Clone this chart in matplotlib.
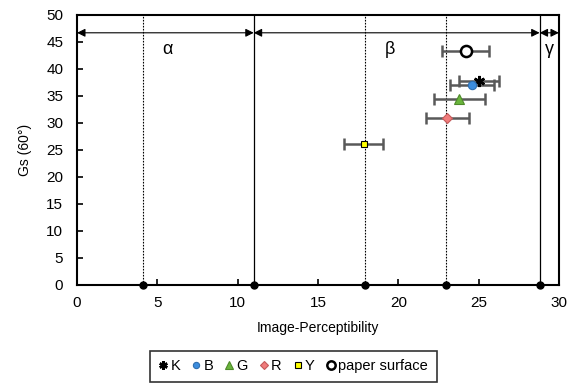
import matplotlib.pyplot as plt
import numpy as np

plt.rcParams['font.family'] = ['Liberation Sans', 'DejaVu Sans']

# samples
names = ['K', 'B', 'G', 'R', 'Y', 'paper surface']
x_vals = [25.05, 24.6, 23.8, 23.05, 17.85, 24.2]
y_vals = [37.8, 37.0, 34.5, 30.9, 26.1, 43.4]
x_errs = [1.25, 1.35, 1.6, 1.35, 1.2, 1.45]

# region boundaries
solid_bounds = [11.0, 28.8]
dashed_bounds = [4.1, 17.9, 23.0]
region_names = ['α', 'β', 'γ']
region_x = [5.6, 19.5, 29.4]

markers = [(6, 2, 0), 'o', '^', 'D', 's', 'o']
faces = ['black', '#3C8DDE', '#6AB53C', '#F07C7C', '#FFFF00', 'white']
edges = ['black', '#2F6FB0', '#4E8A2A', '#C45A5A', 'black', 'black']
sizes = [8, 6, 7, 5, 5, 8]

fig = plt.figure(figsize=(5.75, 3.84), dpi=100)
ax = fig.add_axes([0.134, 0.258, 0.838, 0.703])

for b in solid_bounds:
    ax.axvline(b, color='black', lw=0.9)
for b in dashed_bounds:
    ax.axvline(b, color='black', lw=0.8, ls=(0, (1.5, 1.2)))
ax.plot(dashed_bounds + solid_bounds, [0] * 5, 'o', color='black', ms=5,
        clip_on=False, zorder=5)

# region arrows
edges_x = [0] + solid_bounds + [30]
for i in range(3):
    ax.annotate('', xy=(edges_x[i], 46.7), xytext=(edges_x[i + 1], 46.7),
                arrowprops=dict(arrowstyle='<|-|>', color='black', lw=0.8,
                                mutation_scale=12, shrinkA=0, shrinkB=0))
    ax.text(region_x[i], 43.6, region_names[i], fontsize=13, ha='center',
            va='center')

handles = []
for i in range(len(names)):
    ax.errorbar(x_vals[i], y_vals[i], xerr=x_errs[i], fmt='none',
                ecolor='#595959', elinewidth=1.8, capsize=4, capthick=1.8,
                zorder=3)
    mew = 1.8 if i in (0, 5) else 0.8
    h, = ax.plot(x_vals[i], y_vals[i], marker=markers[i], ls='none',
                 ms=sizes[i], mfc=faces[i], mec=edges[i], mew=mew,
                 label=names[i], zorder=4)
    handles.append(h)

ax.set_xlim(0, 30)
ax.set_ylim(0, 50)
ax.set_xticks(np.arange(0, 31, 5))
ax.set_yticks(np.arange(0, 51, 5))
ax.tick_params(direction='in', length=4, width=1.2, labelsize=11)
ax.tick_params(axis='x', pad=8)
ax.tick_params(axis='y', pad=10)
for s in ax.spines.values():
    s.set_linewidth(1.5)
ax.set_xlabel('Image-Perceptibility', fontsize=10, labelpad=8)
ax.set_ylabel('Gs (60°)', fontsize=10, labelpad=10)

leg = fig.legend(handles=handles, loc='center', bbox_to_anchor=(0.51, 0.046),
                 ncol=6, fontsize=10.5, frameon=True, fancybox=False,
                 handlelength=0.6, handletextpad=0.2, columnspacing=0.8,
                 borderpad=0.6, markerscale=0.75)
leg.get_frame().set_edgecolor('black')
leg.get_frame().set_linewidth(1.2)

fig.savefig('out.png', dpi=100)
